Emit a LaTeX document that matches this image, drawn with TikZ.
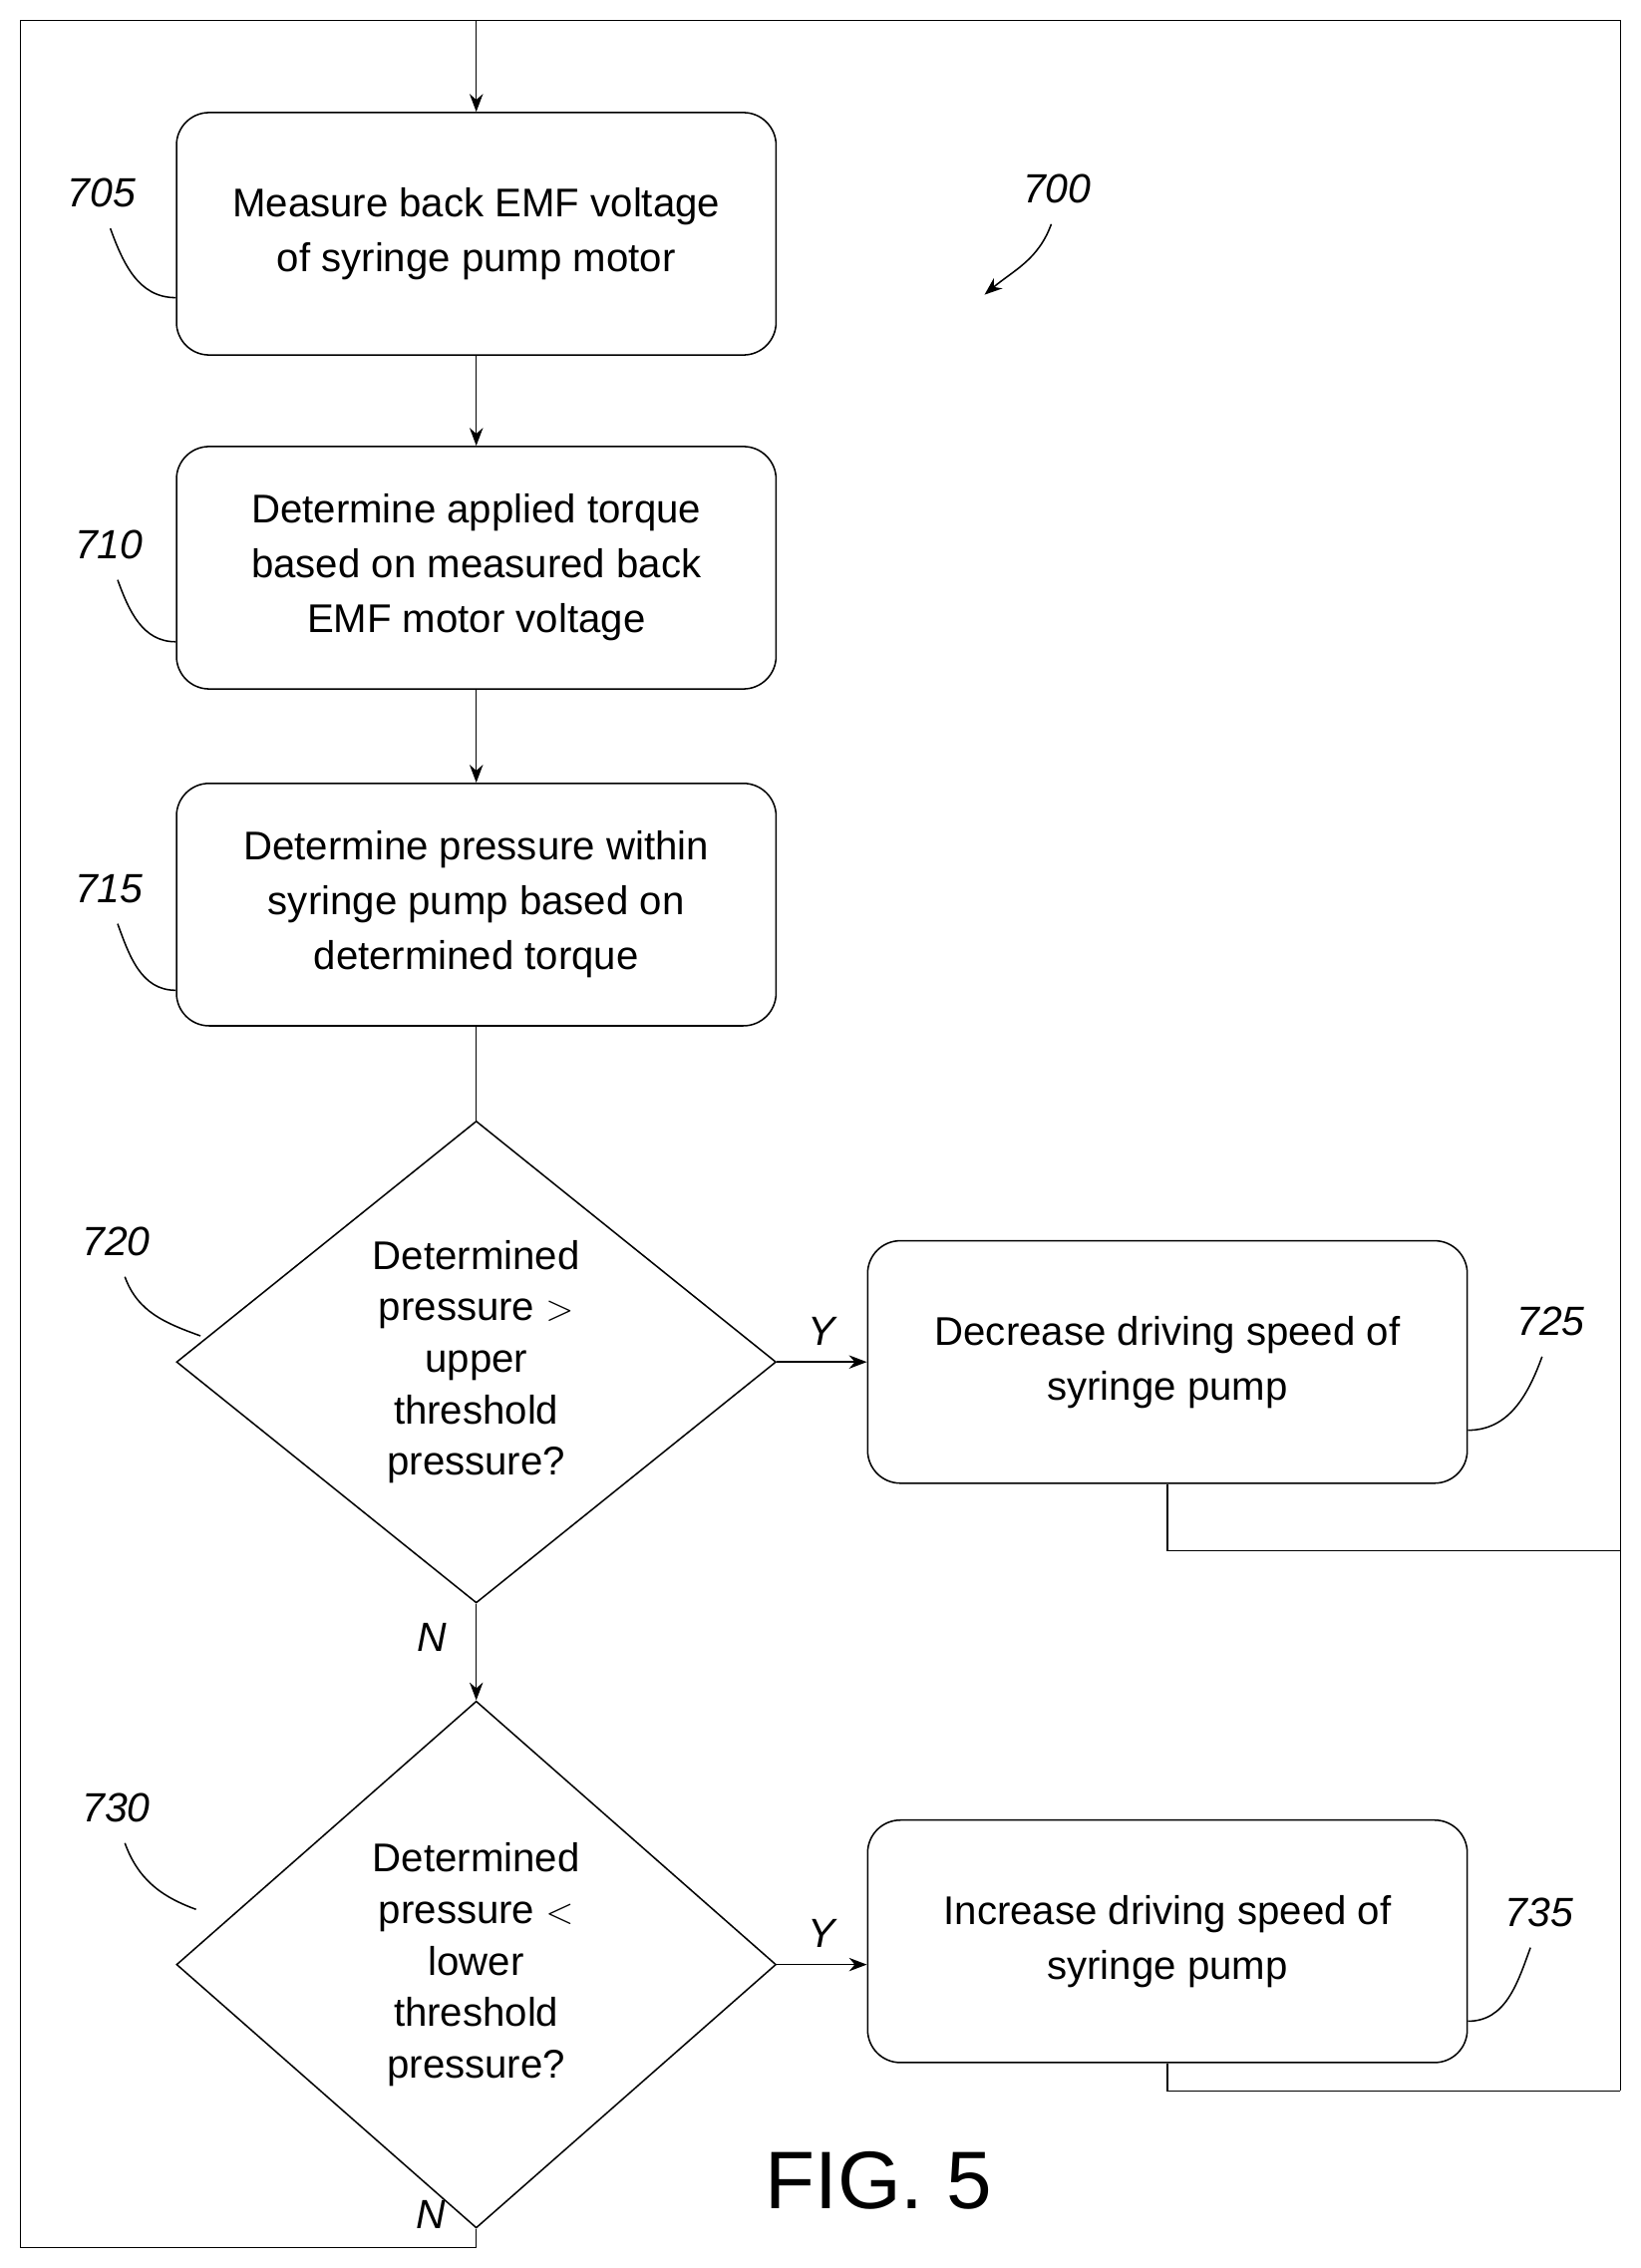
\documentclass[tikz,border=0pt]{standalone}
\usepackage{fontspec}
\setmainfont{Liberation Sans}
\usetikzlibrary{arrows.meta,calc,positioning,shapes.geometric}

\tikzset{
  proc/.style={draw,rounded corners=0.45cm,minimum width=8.26cm,minimum height=3.34cm,align=center,font=\fontsize{15.7}{21.5}\selectfont},
  test/.style={draw,diamond,aspect=0.9,minimum width=8.26cm,minimum height=6.64cm,inner sep=-6pt,align=center,font=\fontsize{15.7}{20.2}\selectfont},
  refno/.style={font=\itshape\fontsize{16}{20}\selectfont},
  lead/.style={semithick},
  flow/.style={semithick,-{Stealth[length=7pt]}}
}

\begin{document}
\begin{tikzpicture}[x=0.02cm,y=-0.02cm,semithick]
  \useasboundingbox (0,0) rectangle (1130,1562);

  % process steps
  \node[proc] (m705) at (328,161) {Measure back EMF voltage\\of syringe pump motor};
  \node[proc] (m710) at (328,391) {Determine applied torque\\based on measured back\\EMF motor voltage};
  \node[proc] (m715) at (328,623) {Determine pressure within\\syringe pump based on\\determined torque};
  \node[test] (d720) at (328,938) {Determined\\pressure $>$\\upper\\threshold\\pressure?};
  \node[test,minimum height=7.26cm] (d730) at (328,1353) {Determined\\pressure $<$\\lower\\threshold\\pressure?};
  \node[proc] (m725) at (804,938) {Decrease driving speed of\\syringe pump};
  \node[proc] (m735) at (804,1337) {Increase driving speed of\\syringe pump};

  % loop corners
  \coordinate (tl) at (14,14);
  \coordinate (tr) at (1116,14);
  \coordinate (bl) at (14,1548);
  \coordinate (r725) at (1116,1068);
  \coordinate (r735) at (1116,1440);

  % connectors
  \draw[flow] (tl) -| (m705.north);
  \draw (tl) -- (tr) -- (r735);
  \draw (tl) -- (bl) -| (d730.south);
  \draw[flow] (m705) -- (m710);
  \draw[flow] (m710) -- (m715);
  \draw (m715) -- (d720);
  \draw[flow] (d720) -- node[pos=0.35,left=8pt,refno]{N} (d730);
  \draw[flow] (d720.east) -- node[above=3pt,refno]{Y} (m725.west);
  \draw[flow] (d730.east) -- node[above=3pt,refno]{Y} (d730.east -| m735.west);
  \draw (m725.south) |- (r725);
  \draw (m735.south) |- (r735);
  \node[refno] (n730) at (297,1525) {N};

  % reference numbers
  \node[refno] (l705) at (70,133) {705};
  \draw[lead] (l705.south) ++(6,8) to[out=-70,in=180] (m705.west |- 0,205);
  \node[refno] (l710) at (75,375) {710};
  \draw[lead] (l710.south) ++(6,8) to[out=-70,in=180] (m710.west |- 0,442);
  \node[refno] (l715) at (75,612) {715};
  \draw[lead] (l715.south) ++(6,8) to[out=-70,in=180] (m715.west |- 0,682);
  \node[refno] (l720) at (80,855) {720};
  \draw[lead] (l720.south) ++(6,8) to[out=-70,in=160] (138,920);
  \node[refno] (l730) at (80,1245) {730};
  \draw[lead] (l730.south) ++(6,8) to[out=-70,in=160] (135,1315);
  \node[refno] (l725) at (1068,910) {725};
  \draw[lead] (l725.south) ++(-6,8) to[out=-110,in=0] (m725.east |- 0,985);
  \node[refno] (l735) at (1060,1317) {735};
  \draw[lead] (l735.south) ++(-6,8) to[out=-110,in=0] (m735.east |- 0,1392);
  \node[refno] (l700) at (728,130) {700};
  \draw[flow] (l700.south) ++(-4,8) to[out=-110,in=40] (678,203);

  \node[font=\fontsize{32}{36}\selectfont] (fig) at (605,1502) {FIG. 5};
\end{tikzpicture}
\end{document}
